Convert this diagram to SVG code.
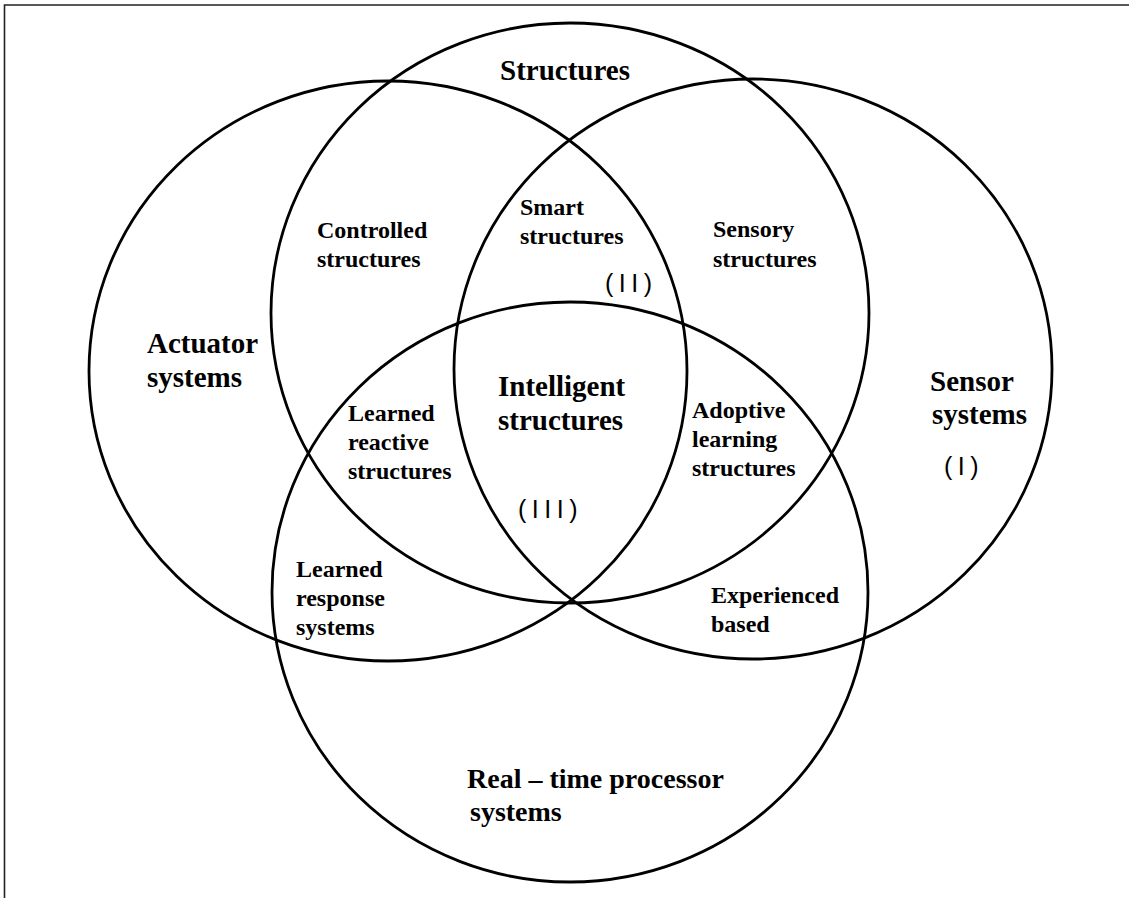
<svg xmlns="http://www.w3.org/2000/svg" width="1129" height="898" viewBox="0 0 1129 898">
<style>
.c{fill:none;stroke:#000;stroke-width:2.8}
.b{font-family:"Liberation Serif","Times New Roman",serif;font-weight:bold;fill:#000}
.L{font-size:29px}
.s{font-size:24px}
.n{font-family:"Liberation Sans",Arial,sans-serif;font-size:25px;fill:#000;letter-spacing:5.5px}
</style>
<rect x="0" y="0" width="1129" height="898" fill="#fff"/>
<path d="M4.5 898 V5 H1129" fill="none" stroke="#222" stroke-width="1.6"/>
<g id="connectors"></g>
<g id="structures">
<ellipse class="c" cx="570" cy="313" rx="299" ry="290"/>
<text class="b L" x="500" y="80">Structures</text>
</g>
<g id="actuator">
<ellipse class="c" cx="388" cy="371" rx="299" ry="290"/>
<text class="b L" x="147" y="353">Actuator</text>
<text class="b L" x="147" y="387">systems</text>
</g>
<g id="sensor">
<ellipse class="c" cx="753" cy="369" rx="299" ry="290"/>
<text class="b L" x="930" y="391">Sensor</text>
<text class="b L" x="932" y="424">systems</text>
<text class="n" x="944" y="475">(I)</text>
</g>
<g id="realtime">
<ellipse class="c" cx="570" cy="592" rx="298" ry="290"/>
<text class="b" style="font-size:28px" x="467" y="788">Real – time processor</text>
<text class="b" style="font-size:28px" x="470" y="821">systems</text>
</g>
<g id="controlled">
<text class="b s" x="317" y="238">Controlled</text>
<text class="b s" x="317" y="267">structures</text>
</g>
<g id="smart">
<text class="b s" x="520" y="215">Smart</text>
<text class="b s" x="520" y="244">structures</text>
<text class="n" x="605" y="292">(II)</text>
</g>
<g id="sensory">
<text class="b s" x="713" y="237">Sensory</text>
<text class="b s" x="713" y="267">structures</text>
</g>
<g id="intelligent">
<text class="b L" x="498" y="396">Intelligent</text>
<text class="b L" x="498" y="430">structures</text>
<text class="n" x="518" y="518">(III)</text>
</g>
<g id="learned-reactive">
<text class="b s" x="348" y="421">Learned</text>
<text class="b s" x="348" y="450">reactive</text>
<text class="b s" x="348" y="479">structures</text>
</g>
<g id="adoptive">
<text class="b s" x="692" y="418">Adoptive</text>
<text class="b s" x="692" y="447">learning</text>
<text class="b s" x="692" y="476">structures</text>
</g>
<g id="learned-response">
<text class="b s" x="296" y="577">Learned</text>
<text class="b s" x="296" y="606">response</text>
<text class="b s" x="296" y="635">systems</text>
</g>
<g id="experienced">
<text class="b s" x="711" y="603">Experienced</text>
<text class="b s" x="711" y="632">based</text>
</g>
</svg>
